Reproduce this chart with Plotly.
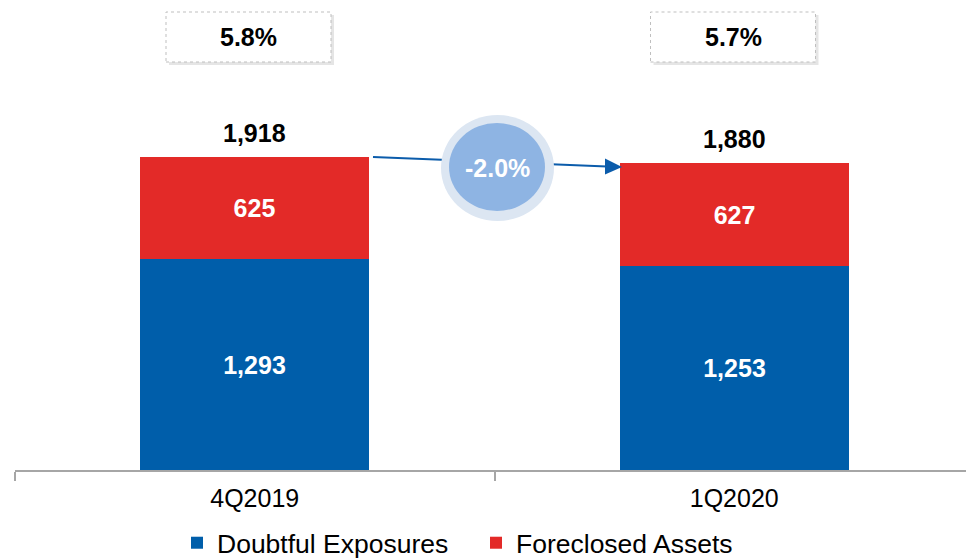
import plotly.graph_objects as go

categories = ["4Q2019", "1Q2020"]
doubtful = [1293, 1253]
foreclosed = [625, 627]
totals = [1918, 1880]
ratio_labels = ["5.8%", "5.7%"]
change_label = "-2.0%"

BLUE = "#005EAA"
RED = "#E32A28"
FONT = "Liberation Sans, Arial, sans-serif"

OFF = 8  # default page body margin
W, H = 974 - OFF, 558 - OFF
ML = 15 - OFF
PH = 470 - OFF
MB = H - PH
PW = W - ML


def px(x):
    return (x - OFF - ML) / PW


def py(y):
    return (PH - (y - OFF)) / PH


fig = go.Figure()
fig.add_trace(go.Bar(
    name="Doubtful Exposures", x=categories, y=doubtful, marker_color=BLUE,
    marker_line_width=0, width=0.478,
    text=[f"{v:,}" for v in doubtful], textposition="inside",
    insidetextanchor="middle",
    textfont=dict(color="white", size=25, family=FONT, weight="bold"),
))
fig.add_trace(go.Bar(
    name="Foreclosed Assets", x=categories, y=foreclosed, marker_color=RED,
    marker_line_width=0, width=0.478,
    text=[f"{v:,}" for v in foreclosed], textposition="inside",
    insidetextanchor="middle",
    textfont=dict(color="white", size=25, family=FONT, weight="bold"),
))

annotations = []
for c, t in zip(categories, totals):
    annotations.append(dict(
        x=c, y=t, xref="x", yref="y", text=f"{t:,}", showarrow=False,
        yanchor="bottom", yshift=8,
        font=dict(size=25, color="black", family=FONT, weight="bold"),
    ))

shapes = []
# ratio boxes
box_centers = [248.5, 733]
for cx, lab in zip(box_centers, ratio_labels):
    x0, x1, y0, y1 = cx - 82.5, cx + 82.5, 12, 62
    # shadow
    shapes.append(dict(type="rect", xref="paper", yref="paper",
                       x0=px(x0 + 3), x1=px(x1 + 3), y0=py(y1 + 3), y1=py(y0 + 3),
                       fillcolor="rgba(0,0,0,0.10)", line_width=0, layer="above"))
    shapes.append(dict(type="rect", xref="paper", yref="paper",
                       x0=px(x0), x1=px(x1), y0=py(y1), y1=py(y0),
                       fillcolor="white", line=dict(color="#BFBFBF", width=1, dash="dot"),
                       layer="above"))
    annotations.append(dict(
        x=px(cx), y=py((y0 + y1) / 2), xref="paper", yref="paper", text=lab,
        showarrow=False, xanchor="center", yanchor="middle",
        font=dict(size=25, color="black", family=FONT, weight="bold"),
    ))

# arrow line and head
shapes.append(dict(type="line", xref="paper", yref="paper",
                   x0=px(373), y0=py(157), x1=px(607), y1=py(166.5),
                   line=dict(color="#0B5CAB", width=2), layer="above"))
shapes.append(dict(type="path", xref="paper", yref="paper",
                   path=f"M {px(605)},{py(158.5)} L {px(622)},{py(167)} L {px(605)},{py(174.5)} Z",
                   fillcolor="#0B5CAB", line_width=0, layer="above"))
# circle
shapes.append(dict(type="circle", xref="paper", yref="paper",
                   x0=px(441), x1=px(554), y0=py(221), y1=py(115),
                   fillcolor="#DCE6F2", line_width=0, layer="above"))
shapes.append(dict(type="circle", xref="paper", yref="paper",
                   x0=px(449), x1=px(545), y0=py(211), y1=py(123),
                   fillcolor="#8EB4E3", line_width=0, layer="above"))
annotations.append(dict(
    x=px(497.5), y=py(168), xref="paper", yref="paper", text=change_label,
    showarrow=False, xanchor="center", yanchor="middle",
    font=dict(size=25, color="white", family=FONT, weight="bold"),
))

fig.update_layout(
    width=W, height=H, barmode="stack", bargap=0,
    margin=dict(l=ML, r=0, t=0, b=MB, autoexpand=False),
    plot_bgcolor="white", paper_bgcolor="white",
    font=dict(family=FONT, color="black"),
    xaxis=dict(showline=True, linecolor="#A6A6A6", linewidth=1.5,
               ticks="outside", ticklen=9, tickcolor="#A6A6A6", tickwidth=1.5,
               tickson="boundaries", tickfont=dict(size=25, color="black"),
               ticklabelstandoff=5,
               showgrid=False, zeroline=False, automargin=False),
    yaxis=dict(visible=False, range=[0, PH / 0.1632]),
    showlegend=True,
    legend=dict(orientation="h", x=px(177), xanchor="left", y=py(543), yanchor="middle",
                font=dict(size=26.5, color="black"), itemwidth=30, entrywidth=254,
                traceorder="normal", bgcolor="rgba(0,0,0,0)"),
    shapes=shapes, annotations=annotations,
    uniformtext=dict(mode="show", minsize=10),
)

fig.write_html("out.html")
